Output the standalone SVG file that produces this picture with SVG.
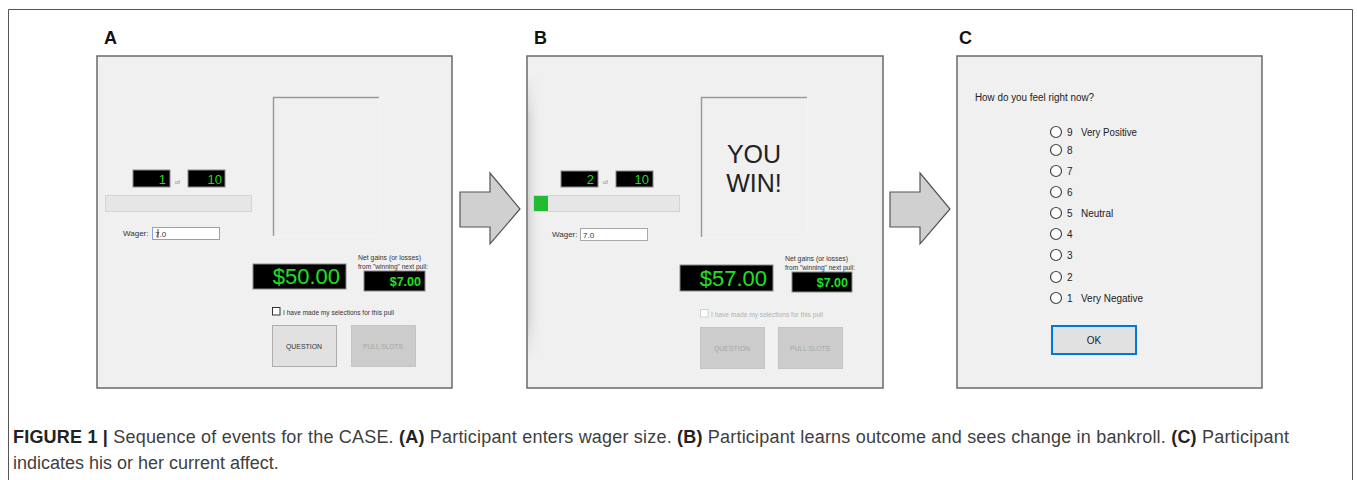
<svg xmlns="http://www.w3.org/2000/svg" width="1357" height="480" viewBox="0 0 1357 480">
<style>
text{font-family:"Liberation Sans",Arial,sans-serif}
.panel{fill:#f0f0f0;stroke:#6a6a6a;stroke-width:1.5}
.lbl{font-size:18px;font-weight:bold;fill:#111}
.imgbox{fill:#f0f0f0;stroke:#f4f4f4}
.inset{fill:none;stroke:#9a9a9a;stroke-width:1.5}
.ctr{fill:#000;stroke:#8a8a8a;stroke-width:1}
.ctrt{font-size:13px;fill:#22dd22;text-anchor:end}
.of{font-size:6px;fill:#888}
.bar{fill:#e6e6e6;stroke:#d4d4d4}
.sm{font-size:8px;fill:#333}
.big{font-size:22px;fill:#22e022;text-anchor:end}
.mid{font-size:12.5px;font-weight:bold;fill:#22e022;text-anchor:end}
.btn{fill:#e1e1e1;stroke:#adadad}
.btnd{fill:#cccccc;stroke:#c4c4c4}
.bt{font-size:8px;fill:#333;text-anchor:middle}
.btd{font-size:8px;fill:#a6a6a6;text-anchor:middle}
.radio{fill:#fff;stroke:#444;stroke-width:1.2}
.rt{font-size:10px;fill:#222}
.arrow{fill:#d0d0d0;stroke:#555;stroke-width:1.2}
.cap{font-size:18px;fill:#404040}
.capb{font-weight:bold;fill:#222}
</style>
<defs>
<linearGradient id="shadow" x1="0" y1="0" x2="1" y2="0">
<stop offset="0" stop-color="#d2d2d2"/>
<stop offset="1" stop-color="#f0f0f0" stop-opacity="0"/>
</linearGradient>
<linearGradient id="shadowV" x1="0" y1="0" x2="0" y2="1">
<stop offset="0" stop-color="#fff" stop-opacity="0"/>
<stop offset="0.15" stop-color="#fff" stop-opacity="1"/>
<stop offset="0.85" stop-color="#fff" stop-opacity="1"/>
<stop offset="1" stop-color="#fff" stop-opacity="0"/>
</linearGradient>
<mask id="shadowMask"><rect x="528" y="75" width="14" height="285" fill="url(#shadowV)"/></mask>
</defs>
<rect x="0" y="0" width="1357" height="480" fill="#fff"/>
<path d="M8.5 482V9.5H1352.5V482" fill="none" stroke="#555" stroke-width="1"/>

<g id="panelA">
<text class="lbl" x="104" y="44">A</text>
<rect class="panel" x="97" y="56" width="355" height="332"/>
<rect class="imgbox" x="273" y="97" width="106" height="139"/>
<path class="inset" d="M273.5 236V97.5H379"/>
<rect class="ctr" x="133" y="170" width="37" height="17"/>
<text class="ctrt" x="166" y="184">1</text>
<text class="of" x="175" y="184">of</text>
<rect class="ctr" x="188" y="170" width="37" height="17"/>
<text class="ctrt" x="222" y="184">10</text>
<rect class="bar" x="105.5" y="195.5" width="146" height="16"/>
<text class="sm" x="123" y="236">Wager:</text>
<rect x="152.5" y="227.5" width="67" height="12" fill="#fff" stroke="#7aa9d6"/>
<text class="sm" x="155" y="236.5">7.0</text>
<line x1="158" y1="229" x2="158" y2="238" stroke="#222" stroke-width="0.8"/>
<rect class="ctr" x="253" y="264" width="93" height="25"/>
<text class="big" x="340" y="284">$50.00</text>
<text class="sm" x="358" y="260" textLength="63" lengthAdjust="spacingAndGlyphs">Net gains (or losses)</text>
<text class="sm" x="358" y="269" textLength="70" lengthAdjust="spacingAndGlyphs">from "winning" next pull:</text>
<rect class="ctr" x="364" y="271" width="61" height="20"/>
<text class="mid" x="421" y="286">$7.00</text>
<rect x="272.5" y="307.5" width="7.5" height="7.5" fill="#fff" stroke="#333"/>
<text class="sm" x="283" y="315" textLength="111" lengthAdjust="spacingAndGlyphs">I have made my selections for this pull</text>
<rect class="btn" x="272.5" y="325.5" width="64" height="41"/>
<text class="bt" x="304" y="349" textLength="36" lengthAdjust="spacingAndGlyphs">QUESTION</text>
<rect class="btnd" x="351.5" y="325.5" width="64" height="41"/>
<text class="btd" x="383" y="349" textLength="40" lengthAdjust="spacingAndGlyphs">PULL SLOTS</text>
</g>

<g id="panelB">
<text class="lbl" x="534" y="44">B</text>
<rect class="panel" x="527" y="56" width="356" height="332"/>
<rect x="528" y="75" width="14" height="285" fill="url(#shadow)" mask="url(#shadowMask)"/>
<rect class="imgbox" x="701" y="97" width="106" height="140"/>
<path class="inset" d="M701.5 237V97.5H807"/>
<text x="754" y="163" font-size="25" fill="#222" text-anchor="middle">YOU</text>
<text x="754" y="192" font-size="25" fill="#222" text-anchor="middle">WIN!</text>
<rect class="ctr" x="561" y="171" width="37" height="16"/>
<text class="ctrt" x="594" y="184">2</text>
<text class="of" x="603" y="184">of</text>
<rect class="ctr" x="616" y="171" width="37" height="16"/>
<text class="ctrt" x="649" y="184">10</text>
<rect class="bar" x="533.5" y="195.5" width="146" height="16"/>
<rect x="534" y="196" width="14" height="15" fill="#22bb33"/>
<text class="sm" x="552" y="237">Wager:</text>
<rect x="580.5" y="228.5" width="67" height="12" fill="#fff" stroke="#a8a8a8"/>
<text class="sm" x="583" y="237.5">7.0</text>
<rect class="ctr" x="680" y="265" width="93" height="26"/>
<text class="big" x="767" y="286">$57.00</text>
<text class="sm" x="785" y="261" textLength="63" lengthAdjust="spacingAndGlyphs">Net gains (or losses)</text>
<text class="sm" x="785" y="270" textLength="70" lengthAdjust="spacingAndGlyphs">from "winning" next pull:</text>
<rect class="ctr" x="792" y="272" width="60" height="20"/>
<text class="mid" x="848" y="287">$7.00</text>
<rect x="700.5" y="309.5" width="7.5" height="7.5" fill="#fff" stroke="#d0d0d0"/>
<text class="sm" x="711" y="317" style="fill:#b0b0b0" textLength="112" lengthAdjust="spacingAndGlyphs">I have made my selections for this pull</text>
<rect class="btnd" x="700.5" y="327.5" width="64" height="41"/>
<text class="btd" x="732" y="351" textLength="36" lengthAdjust="spacingAndGlyphs">QUESTION</text>
<rect class="btnd" x="778.5" y="327.5" width="64" height="41"/>
<text class="btd" x="810" y="351" textLength="40" lengthAdjust="spacingAndGlyphs">PULL SLOTS</text>
</g>

<g id="panelC">
<text class="lbl" x="959" y="44">C</text>
<rect class="panel" x="957" y="56" width="305" height="332"/>
<text class="rt" x="975" y="101" textLength="119" lengthAdjust="spacingAndGlyphs">How do you feel right now?</text>
<g id="radios">
<circle class="radio" cx="1056" cy="132" r="5.5"/><text class="rt" x="1067" y="136">9</text><text class="rt" x="1081" y="136" textLength="56" lengthAdjust="spacingAndGlyphs">Very Positive</text>
<circle class="radio" cx="1056" cy="150" r="5.5"/><text class="rt" x="1067" y="154">8</text>
<circle class="radio" cx="1056" cy="171" r="5.5"/><text class="rt" x="1067" y="175">7</text>
<circle class="radio" cx="1056" cy="192" r="5.5"/><text class="rt" x="1067" y="196">6</text>
<circle class="radio" cx="1056" cy="213" r="5.5"/><text class="rt" x="1067" y="217">5</text><text class="rt" x="1081" y="217">Neutral</text>
<circle class="radio" cx="1056" cy="234" r="5.5"/><text class="rt" x="1067" y="238">4</text>
<circle class="radio" cx="1056" cy="255" r="5.5"/><text class="rt" x="1067" y="259">3</text>
<circle class="radio" cx="1056" cy="277" r="5.5"/><text class="rt" x="1067" y="281">2</text>
<circle class="radio" cx="1056" cy="298" r="5.5"/><text class="rt" x="1067" y="302">1</text><text class="rt" x="1081" y="302" textLength="62" lengthAdjust="spacingAndGlyphs">Very Negative</text>
</g>
<rect x="1052" y="326" width="84" height="28" fill="#e1e1e1" stroke="#0078d7" stroke-width="2"/>
<text class="rt" x="1094" y="344" text-anchor="middle">OK</text>
</g>

<g id="connectors">
<path class="arrow" d="M460 192H490V173L520 209L490 244V227H460Z"/>
<path class="arrow" d="M890 192H920V173L950 209L920 244V227H890Z"/>
</g>

<g id="caption">
<text class="cap" x="13" y="443" textLength="1276" lengthAdjust="spacing"><tspan class="capb">FIGURE 1 |</tspan> Sequence of events for the CASE. <tspan class="capb">(A)</tspan> Participant enters wager size. <tspan class="capb">(B)</tspan> Participant learns outcome and sees change in bankroll. <tspan class="capb">(C)</tspan> Participant</text>
<text class="cap" x="13" y="469">indicates his or her current affect.</text>
</g>
</svg>
